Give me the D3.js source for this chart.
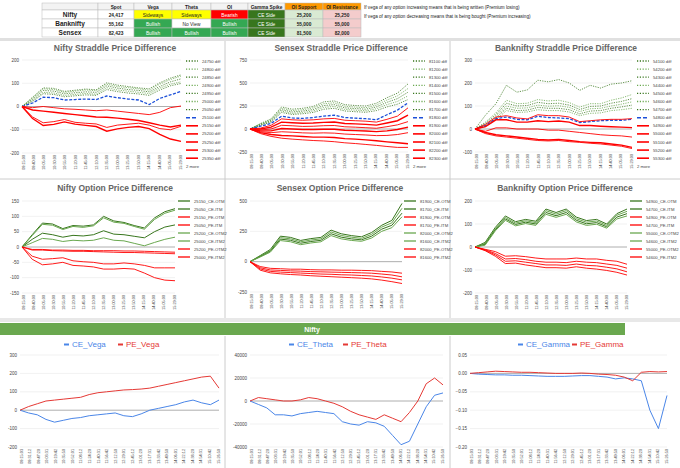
<!DOCTYPE html>
<html><head><meta charset="utf-8">
<script src="https://cdn.jsdelivr.net/npm/d3@7"></script>
<style>body{margin:0;background:#fff;font-family:Arial,"Liberation Sans",sans-serif}</style>
</head><body><svg id="c" width="680" height="468"></svg>
<script>
// ---- top table ----
var tableCols = ["", "Spot", "Vega", "Theta", "OI", "Gamma Spike", "OI Support", "OI Resistance"];
var tableRows = [
  ["Nifty", "24,417", "Sideways", "Sideways", "Bearish", "CE Side", "25,200", "25,250"],
  ["Banknifty", "55,162", "Bullish", "No View", "Bullish", "CE Side", "55,000", "55,000"],
  ["Sensex", "82,423", "Bullish", "Bullish", "Bullish", "CE Side", "81,500", "82,000"]
];
var notes = ["If vega of any option increasing means that is being written (Premium losing)",
             "If vega of any option decreasing means that is being bought (Premium increasing)"];

// ---- time labels ----
var times = ["09:15:00","09:40:00","10:05:00","10:30:00","10:55:00","11:20:00","11:45:00","12:10:00",
             "12:35:00","13:00:00","13:25:00","13:50:00","14:15:00","14:40:00","15:05:00","15:29:00"];
var greekTimes = ["09:15:03","09:31:12","09:47:20","10:03:31","10:19:42","10:35:50","10:52:01","11:08:12",
                  "11:24:20","11:40:31","11:56:42","12:12:50","12:29:01","12:45:12","13:01:20","13:17:31",
                  "13:33:42","13:49:50","14:06:01","14:22:12","14:38:20","14:54:31","15:10:42","15:26:50"];

// ---- straddle charts ----
var niftyStraddleLabels = ["24750 diff","24800 diff","24850 diff","24900 diff","24950 diff","25000 diff","25050 diff",
  "25100 diff","25150 diff","25200 diff","25250 diff","25300 diff","25350 diff"];
var niftyStraddleGreen = [
  [0,40,80,78,65,70,75,72,102,92,86,80,76,102,122,136],
  [0,36,76,73,61,66,71,68,96,86,81,76,70,96,116,131],
  [0,31,69,66,55,59,63,61,89,79,73,69,63,86,106,119],
  [0,26,61,58,48,52,56,53,81,71,66,61,56,79,96,106],
  [0,22,55,52,42,46,50,48,73,64,58,54,48,71,89,99]];
var niftyStraddleBlue = [0,15,40,38,28,30,32,30,45,38,32,28,8,35,50,65];
var niftyStraddleRed = [
  [0,-5,0,-5,-10,-12,-15,-18,-15,-20,-25,-30,-35,-25,-5,2],
  [0,-15,-20,-25,-30,-35,-40,-45,-46,-50,-55,-60,-70,-80,-88,-80],
  [0,-45,-70,-65,-56,-68,-72,-75,-90,-80,-76,-72,-80,-95,-100,-85],
  [0,-52,-82,-77,-66,-76,-81,-86,-106,-96,-90,-86,-95,-120,-140,-150]];

var sensexStraddleLabels = ["81100 diff","81200 diff","81300 diff","81400 diff","81500 diff","81600 diff","81700 diff",
  "81800 diff","81900 diff","82000 diff","82100 diff","82200 diff","82300 diff"];
var sensexStraddleGreen = [
  [0,60,110,240,215,225,245,295,305,265,255,250,280,340,390,490],
  [0,55,100,225,200,210,230,275,285,248,238,232,260,315,360,440],
  [0,50,92,210,185,195,212,255,265,230,222,215,240,290,330,400],
  [0,45,84,195,170,180,196,235,245,213,205,198,220,265,300,360],
  [0,40,76,180,158,166,180,215,225,196,188,182,200,240,270,320]];
var sensexStraddleBlue = [0,30,60,140,120,115,125,140,150,125,118,112,100,155,205,285];
var sensexStraddleRed = [
  [0,10,40,110,100,95,100,110,115,95,90,85,75,105,140,230],
  [0,0,20,75,68,62,65,72,76,60,56,50,42,65,90,150],
  [0,-10,0,40,35,28,30,36,38,24,20,14,8,25,45,80],
  [0,-20,-20,5,0,-6,-6,-2,-2,-14,-18,-22,-28,-20,-5,20],
  [0,-30,-40,-30,-35,-42,-45,-42,-45,-55,-60,-65,-72,-70,-60,-40],
  [0,-40,-60,-70,-75,-82,-88,-88,-92,-105,-110,-118,-128,-140,-150,-160],
  [0,-50,-80,-100,-110,-118,-125,-130,-138,-150,-158,-168,-178,-190,-200,-200]];

var bankStraddleLabels = ["54100 diff","54200 diff","54300 diff","54400 diff","54500 diff","54600 diff","54700 diff",
  "54800 diff","54900 diff","55000 diff","55100 diff","55200 diff","55300 diff"];
var bankStraddleGreen = [
  [0,60,110,190,160,170,212,205,215,200,168,190,178,195,200,210],
  [0,30,70,125,110,112,128,122,125,115,95,110,110,125,135,150],
  [0,25,62,112,100,102,116,110,112,104,85,98,100,112,120,132],
  [0,20,55,100,90,92,104,99,101,94,76,88,90,100,108,118],
  [0,15,48,90,80,82,94,90,90,84,66,78,80,90,96,104],
  [0,10,40,80,72,74,84,80,80,74,58,68,70,80,84,90]];
var bankStraddleBlue = [0,15,45,52,42,40,55,50,48,45,28,32,36,38,38,42];
var bankStraddleRed = [
  [0,20,52,58,48,44,62,58,58,52,32,36,40,42,42,45],
  [0,10,40,40,30,30,36,32,35,30,15,15,12,10,8,6],
  [0,-10,5,5,0,0,0,-5,-5,-10,-15,-20,-25,-28,-30,-35],
  [0,-15,-25,-30,-35,-40,-45,-48,-45,-50,-55,-58,-60,-65,-70,-80],
  [0,-20,-30,-35,-40,-45,-50,-52,-50,-55,-58,-62,-65,-70,-75,-85]];

// ---- option charts ----
var niftyOptLabels = ["25150_CE-OTM","25050_CE-ITM","25150_PE-OTM","25050_PE-ITM","25200_CE-OTM2","25000_CE-ITM2","25200_PE-OTM2","25000_PE-ITM2"];
var niftyOptCE = [
  [0,40,78,75,60,70,68,72,100,85,80,70,62,95,115,125],
  [0,37,74,71,57,67,64,69,95,81,77,67,58,90,110,120],
  [0,25,45,40,32,38,36,40,53,42,40,35,30,50,65,72],
  [0,14,28,25,18,22,20,22,30,22,20,12,4,15,25,32]];
var niftyOptPE = [
  [0,-8,-8,-10,-10,-11,-11,-12,-12,-12,-13,-13,-14,-15,-16,-17],
  [0,-10,-10,-12,-13,-14,-14,-15,-16,-17,-18,-18,-19,-20,-21,-22],
  [0,-30,-40,-38,-35,-45,-48,-50,-55,-55,-52,-55,-60,-68,-68,-68],
  [0,-40,-58,-55,-50,-60,-62,-65,-72,-72,-70,-72,-85,-100,-108,-110]];

var sensexOptLabels = ["81900_CE-OTM","81700_CE-ITM","81900_PE-OTM","81700_PE-ITM","82000_CE-OTM2","81600_CE-ITM2","82000_PE-OTM2","81600_PE-ITM2"];
var sensexOptCE = [
  [0,50,100,210,200,175,190,200,260,230,215,205,240,300,340,480],
  [0,46,92,198,188,164,178,188,245,216,202,192,225,285,320,440],
  [0,42,85,186,176,152,166,176,230,202,188,180,210,268,300,400],
  [0,38,78,174,164,140,154,164,215,188,175,168,195,250,280,370]];
var sensexOptPE = [
  [0,-40,-55,-58,-62,-62,-66,-68,-68,-70,-70,-72,-74,-80,-85,-95],
  [0,-50,-68,-72,-76,-78,-82,-84,-86,-88,-90,-92,-95,-102,-110,-125],
  [0,-60,-80,-86,-90,-94,-98,-102,-104,-108,-110,-114,-118,-126,-136,-150],
  [0,-70,-92,-100,-106,-110,-116,-120,-124,-128,-132,-136,-142,-152,-165,-180]];

var bankOptLabels = ["54900_CE-OTM","54700_CE-ITM","54900_PE-OTM","54700_PE-ITM","55000_CE-OTM2","54600_CE-ITM2","55000_PE-OTM2","54600_PE-ITM2"];
var bankOptCE = [
  [0,20,85,135,110,120,112,165,150,165,130,115,120,100,145,165],
  [0,16,80,128,104,114,106,158,143,158,123,108,113,94,138,155],
  [0,12,75,122,98,108,100,150,136,150,116,101,106,88,130,145],
  [0,8,70,116,92,102,94,142,129,142,109,94,99,82,122,135]];
var bankOptPE = [
  [0,-10,-20,-40,-38,-42,-48,-52,-52,-52,-48,-52,-52,-58,-62,-75],
  [0,-12,-28,-52,-50,-55,-62,-66,-66,-68,-62,-66,-68,-74,-80,-92],
  [0,-14,-34,-62,-60,-66,-72,-78,-78,-80,-74,-80,-82,-88,-95,-108],
  [0,-16,-40,-72,-70,-78,-84,-90,-90,-92,-86,-92,-96,-102,-110,-122]];

// ---- greeks ----
var ceVega = [0,-15,-25,-50,-65,-55,-45,-40,-30,-25,-20,-15,-30,-35,-20,0,10,20,30,45,55,40,30,55];
var peVega = [0,20,35,50,55,60,65,70,85,95,100,105,110,112,115,120,130,140,150,160,170,180,185,120];
var ceTheta = [0,-3000,-6000,-12000,-12000,-13000,-11000,-10000,-9000,-10000,-11000,-18000,-20000,-21000,-18000,-19000,-22000,-30000,-38000,-35000,-20000,-5000,5000,7000];
var peTheta = [0,3000,2000,1000,0,0,1000,3000,2000,0,-2000,-5000,-9000,-12000,-14000,-16000,-12000,-15000,-18000,-10000,0,15000,20000,14000];
var ceGamma = [0,-0.002,-0.003,-0.004,-0.004,-0.005,-0.005,-0.006,-0.007,-0.008,-0.008,-0.008,-0.007,-0.006,-0.006,-0.008,-0.01,-0.015,-0.012,-0.015,-0.02,-0.1,-0.15,-0.06];
var peGamma = [0,0.002,0.004,0.006,0.005,0.004,0.003,0.003,0.002,0.001,0,0,0,0.001,0,-0.002,-0.003,-0.005,-0.01,-0.02,0.003,0.005,0.004,0.005];

var GREEN = "#38761d", LGREEN = "#6aa84f", RED = "#ff0000", BLUE = "#1c4fd8", GBLUE = "#4a86e8", GRED = "#e53935";
var svg = d3.select("#c");

// spreadsheet background lines
svg.append("rect").attr("x", 0).attr("y", 38).attr("width", 680).attr("height", 3).attr("fill", "#e0e0e0");
svg.append("rect").attr("x", 0).attr("y", 318).attr("width", 680).attr("height", 4).attr("fill", "#e8e8e8");
[225, 450].forEach(function(x) {
  svg.append("line").attr("x1", x).attr("x2", x).attr("y1", 41).attr("y2", 318).attr("stroke", "#ccc");
  svg.append("line").attr("x1", x).attr("x2", x).attr("y1", 336).attr("y2", 468).attr("stroke", "#ccc");
});
svg.append("line").attr("x1", 0).attr("x2", 680).attr("y1", 179).attr("y2", 179).attr("stroke", "#ccc");

// ---- table ----
var colX = [42, 98, 134, 172, 211, 248, 285, 323, 361];
var rowY = [3, 10, 19, 28, 37];
function cellFill(r, c, txt) {
  if (r === 0) return (c >= 6) ? "#ff9900" : "#f3f3f3";
  if (c === 0 || c === 1) return "#fff";
  if (txt === "Sideways") return "#ffff00";
  if (txt === "Bearish") return "#ff0000";
  if (txt === "Bullish") return "#34a853";
  if (txt === "CE Side") return GREEN;
  if (c === 6) return "#d9ead3";
  if (c === 7) return "#f4cccc";
  return "#fff";
}
var allRows = [tableCols].concat(tableRows);
allRows.forEach(function(row, r) {
  row.forEach(function(txt, c) {
    var f = cellFill(r, c, txt);
    svg.append("rect").attr("x", colX[c]).attr("y", rowY[r]).attr("width", colX[c + 1] - colX[c])
      .attr("height", rowY[r + 1] - rowY[r]).attr("fill", f).attr("stroke", "#bbb").attr("stroke-width", 0.5);
    var light = (f === "#ff0000" || f === "#34a853" || f === GREEN);
    svg.append("text").attr("x", (colX[c] + colX[c + 1]) / 2).attr("y", (rowY[r] + rowY[r + 1]) / 2 + 2)
      .attr("text-anchor", "middle").attr("font-size", c === 0 ? 6.5 : 4.8)
      .attr("font-weight", (r === 0 || c <= 1 || c >= 6) ? "bold" : "normal")
      .attr("fill", light ? "#fff" : "#222").text(txt);
  });
});
notes.forEach(function(n, i) {
  svg.append("text").attr("x", 364).attr("y", 8.5 + i * 9).attr("font-size", 4.6).attr("fill", "#222").text(n);
});

// ---- generic line chart ----
function drawChart(cfg) {
  var g = svg.append("g");
  var n = cfg.series[0].v.length;
  var x = d3.scaleLinear().domain([0, n - 1]).range([cfg.x0, cfg.x1]);
  var y = d3.scaleLinear().domain(cfg.domain).range([cfg.y1, cfg.y0]);
  cfg.ticks.forEach(function(t) {
    g.append("line").attr("x1", cfg.x0).attr("x2", cfg.x1).attr("y1", y(t)).attr("y2", y(t))
      .attr("stroke", t === 0 ? "#999" : "#e2e2e2").attr("stroke-width", t === 0 ? 0.8 : 0.5);
    g.append("text").attr("x", cfg.x0 - 3).attr("y", y(t) + 1.5).attr("text-anchor", "end")
      .attr("font-size", 4.5).attr("fill", "#444").text(cfg.fmt ? cfg.fmt(t) : t);
  });
  var labs = cfg.labels;
  var lx = d3.scaleLinear().domain([0, labs.length - 1]).range([cfg.x0 + 1, cfg.x1 - 1]);
  labs.forEach(function(l, i) {
    g.append("text").attr("transform", "translate(" + (lx(i) + 1.5) + "," + (cfg.y1 + 2) + ") rotate(-90)")
      .attr("text-anchor", "end").attr("font-size", 3.8).attr("fill", "#444").text(l);
  });
  var line = d3.line().x(function(d, i) { return x(i); }).y(function(d) { return y(d); });
  cfg.series.forEach(function(s) {
    g.append("path").attr("d", line(s.v)).attr("fill", "none").attr("stroke", s.color)
      .attr("stroke-width", s.w || 1).attr("stroke-dasharray", s.dash || null);
  });
  if (cfg.title) {
    g.append("text").attr("x", cfg.title[0]).attr("y", cfg.title[1]).attr("text-anchor", "middle")
      .attr("font-size", 8.5).attr("font-weight", "bold").attr("fill", "#666").text(cfg.title[2]);
  }
  if (cfg.legend) {
    cfg.legend.items.forEach(function(it, i) {
      var yy = cfg.legend.y + i * cfg.legend.step;
      g.append("line").attr("x1", cfg.legend.x).attr("x2", cfg.legend.x + 12).attr("y1", yy).attr("y2", yy)
        .attr("stroke", it.color).attr("stroke-width", it.w || 1.3).attr("stroke-dasharray", it.dash || null);
      g.append("text").attr("x", cfg.legend.x + 16).attr("y", yy + 1.5).attr("font-size", 4.2).attr("fill", "#444").text(it.label);
    });
    if (cfg.legend.more) {
      g.append("text").attr("x", cfg.legend.x).attr("y", cfg.legend.y + cfg.legend.items.length * cfg.legend.step + 1.5)
        .attr("font-size", 4.2).attr("fill", "#444").text("2 more");
    }
  }
  if (cfg.top) {
    var tot = cfg.top.cx;
    cfg.top.items.forEach(function(it, i) {
      var xx = tot + (i === 0 ? -48 : 6);
      g.append("line").attr("x1", xx).attr("x2", xx + 5).attr("y1", cfg.top.y - 2.5).attr("y2", cfg.top.y - 2.5)
        .attr("stroke", it.color).attr("stroke-width", 2);
      g.append("text").attr("x", xx + 8).attr("y", cfg.top.y).attr("font-size", 8).attr("fill", it.color).text(it.label);
    });
  }
}

function straddleSeries(greens, blue, reds) {
  var s = [];
  greens.forEach(function(v, i) { s.push({ v: v, color: i % 2 ? LGREEN : GREEN, dash: "1.2,1.2", w: 0.8 }); });
  s.push({ v: blue, color: BLUE, dash: "3,1.5", w: 1.3 });
  reds.forEach(function(v, i) { s.push({ v: v, color: RED, w: i % 2 ? 1.4 : 0.9 }); });
  return s;
}
function straddleLegend(labels) {
  return labels.map(function(l, i) {
    if (i < 7) return { label: l, color: i % 2 ? LGREEN : GREEN, dash: "1.2,1.6" };
    if (i === 7) return { label: l, color: BLUE, dash: "4,2", w: 1.6 };
    return { label: l, color: RED, w: 1.6 };
  });
}
function optSeries(ce, pe) {
  return ce.map(function(v, i) { return { v: v, color: i % 2 ? LGREEN : GREEN, w: 1 }; })
    .concat(pe.map(function(v, i) { return { v: v, color: RED, w: 0.9 }; }));
}
function optLegend(labels) {
  return labels.map(function(l, i) {
    var ce = (i % 4) < 2;
    return { label: l, color: ce ? (i < 4 ? GREEN : LGREEN) : RED, w: 1.3 };
  });
}

// row 1: straddle
drawChart({ x0: 22, x1: 181, y0: 60, y1: 153, domain: [-200, 200], ticks: [200, 100, 0, -100, -200], labels: times,
  series: straddleSeries(niftyStraddleGreen, niftyStraddleBlue, niftyStraddleRed),
  title: [115, 51, "Nifty Straddle Price Difference"],
  legend: { x: 186, y: 61, step: 8.1, items: straddleLegend(niftyStraddleLabels), more: true } });
drawChart({ x0: 250, x1: 408, y0: 60, y1: 152, domain: [-250, 750], ticks: [750, 500, 250, 0, -250], labels: times,
  series: straddleSeries(sensexStraddleGreen, sensexStraddleBlue, sensexStraddleRed),
  title: [341, 51, "Sensex Straddle Price Difference"],
  legend: { x: 413, y: 61, step: 8.1, items: straddleLegend(sensexStraddleLabels), more: true } });
drawChart({ x0: 475, x1: 632, y0: 60, y1: 152, domain: [-100, 300], ticks: [300, 200, 100, 0, -100], labels: times,
  series: straddleSeries(bankStraddleGreen, bankStraddleBlue, bankStraddleRed),
  title: [566, 51, "Banknifty Straddle Price Difference"],
  legend: { x: 637, y: 61, step: 8.1, items: straddleLegend(bankStraddleLabels), more: true } });

// row 2: option
drawChart({ x0: 22, x1: 175, y0: 201, y1: 293, domain: [-150, 150], ticks: [150, 100, 50, 0, -50, -100, -150], labels: times,
  series: optSeries(niftyOptCE, niftyOptPE), title: [115, 191, "Nifty Option Price Difference"],
  legend: { x: 178, y: 201, step: 8, items: optLegend(niftyOptLabels) } });
drawChart({ x0: 250, x1: 402, y0: 201, y1: 292, domain: [-250, 500], ticks: [500, 250, 0, -250], labels: times,
  series: optSeries(sensexOptCE, sensexOptPE), title: [340, 191, "Sensex Option Price Difference"],
  legend: { x: 404, y: 201, step: 8, items: optLegend(sensexOptLabels) } });
drawChart({ x0: 475, x1: 627, y0: 201, y1: 293, domain: [-200, 200], ticks: [200, 100, 0, -100, -200], labels: times,
  series: optSeries(bankOptCE, bankOptPE), title: [565, 191, "Banknifty Option Price Difference"],
  legend: { x: 630, y: 201, step: 8, items: optLegend(bankOptLabels) } });

// green band
svg.append("rect").attr("x", 0).attr("y", 323).attr("width", 625).attr("height", 12).attr("fill", LGREEN);
svg.append("text").attr("x", 312).attr("y", 332).attr("text-anchor", "middle").attr("font-size", 7)
  .attr("font-weight", "bold").attr("fill", "#fff").text("Nifty");

// row 3: greeks
drawChart({ x0: 20, x1: 219, y0: 355, y1: 447, domain: [-200, 300], ticks: [300, 200, 100, 0, -100, -200], labels: greekTimes,
  series: [{ v: ceVega, color: GBLUE, w: 1 }, { v: peVega, color: GRED, w: 1 }],
  top: { cx: 112, y: 347, items: [{ label: "CE_Vega", color: GBLUE }, { label: "PE_Vega", color: GRED }] } });
drawChart({ x0: 250, x1: 443, y0: 355, y1: 447, domain: [-40000, 40000], ticks: [40000, 20000, 0, -20000, -40000], labels: greekTimes,
  series: [{ v: ceTheta, color: GBLUE, w: 1 }, { v: peTheta, color: GRED, w: 1 }],
  top: { cx: 337, y: 347, items: [{ label: "CE_Theta", color: GBLUE }, { label: "PE_Theta", color: GRED }] } });
drawChart({ x0: 470, x1: 667, y0: 355, y1: 447, domain: [-0.2, 0.05], ticks: [0.05, 0, -0.05, -0.1, -0.15, -0.2], labels: greekTimes,
  fmt: d3.format(".2f"),
  series: [{ v: ceGamma, color: GBLUE, w: 1 }, { v: peGamma, color: GRED, w: 1 }],
  top: { cx: 566, y: 347, items: [{ label: "CE_Gamma", color: GBLUE }, { label: "PE_Gamma", color: GRED }] } });
</script></body></html>
